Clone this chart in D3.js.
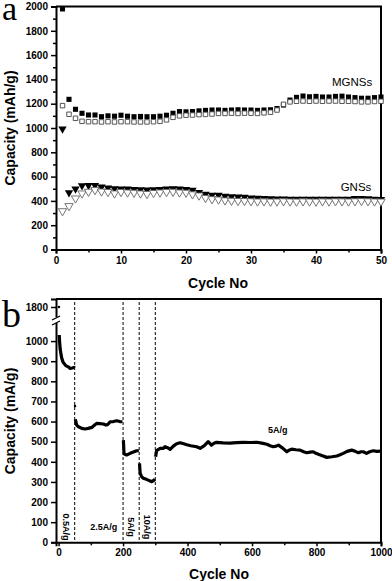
<!DOCTYPE html>
<html>
<head>
<meta charset="utf-8">
<script src="https://cdn.jsdelivr.net/npm/d3@7"></script>
<style>
  body { margin: 0; background: #fff; }
  svg { display: block; font-family: "Liberation Sans", Arial, sans-serif; }
  .tick text { font-weight: bold; font-size: 10px; }
</style>
</head>
<body>
<div class="chart"></div>
<script>
// panel a data, cycles 1..50
var cyclesA = d3.range(1, 51);
var mgnsCharge = [1980, 1236, 1154, 1121, 1107, 1107, 1093, 1100, 1097, 1105,
  1097, 1093, 1095, 1093, 1093, 1097, 1105, 1121, 1135, 1133,
  1135, 1141, 1145, 1148, 1148, 1145, 1148, 1150, 1148, 1148,
  1145, 1148, 1150, 1160, 1189, 1230, 1252, 1263, 1257, 1260,
  1255, 1255, 1260, 1262, 1255, 1250, 1245, 1245, 1250, 1255];
var mgnsDischarge = [1184, 1113, 1080, 1055, 1052, 1052, 1050, 1052, 1050, 1052,
  1052, 1050, 1050, 1050, 1052, 1055, 1067, 1088, 1100, 1105,
  1107, 1110, 1112, 1115, 1120, 1120, 1122, 1120, 1122, 1122,
  1120, 1125, 1130, 1148, 1195, 1215, 1220, 1222, 1220, 1222,
  1220, 1222, 1222, 1220, 1220, 1218, 1215, 1215, 1218, 1220];
var gnsCharge = [992, 468, 498, 525, 528, 528, 515, 508, 500, 498,
  498, 495, 493, 490, 492, 495, 498, 500, 498, 495,
  488, 470, 455, 448, 448, 440, 435, 432, 430, 425,
  422, 420, 418, 416, 416, 415, 415, 415, 415, 415,
  415, 415, 415, 415, 415, 420, 420, 418, 415, 412];
var gnsDischarge = [316, 358, 421, 462, 476, 490, 478, 474, 462, 474,
  470, 468, 462, 458, 466, 470, 474, 476, 470, 468,
  455, 445, 425, 415, 412, 405, 402, 400, 400, 398,
  396, 397, 395, 396, 398, 396, 395, 397, 396, 395,
  397, 396, 398, 397, 396, 398, 400, 398, 396, 395];

// panel b data: [cycle, capacity]
var rateDots = [[1, 1800], [51, 677]];
var rate05 = [[2, 1030], [3, 1000], [5, 960], [8, 930], [10, 914], [14, 895], [17, 889],
  [22, 878], [30, 872], [36, 864], [42, 866], [48, 869], [50, 866]];
var rate25 = [[52, 611], [56, 583], [62, 574], [72, 566], [82, 563], [92, 566], [103, 571],
  [110, 580], [118, 591], [128, 590], [139, 588], [145, 584], [151, 584], [155, 590],
  [160, 599], [170, 600], [180, 604], [190, 600], [198, 599]];
var rate5a = [[201, 508], [203, 440], [211, 434], [222, 442], [230, 447], [242, 455], [249, 455]];
var rate10 = [[251, 392], [253, 343], [258, 325], [263, 318], [270, 314], [278, 309],
  [284, 305], [289, 301], [294, 306], [299, 313]];
var rate5b = [[301, 425], [304, 456], [310, 462], [315, 467], [325, 467], [330, 475], [338, 470],
  [346, 462], [356, 478], [366, 490], [377, 495], [388, 490], [398, 485], [410, 480],
  [428, 475], [439, 467], [452, 480], [464, 500], [474, 483], [482, 492], [490, 497],
  [510, 494], [532, 493], [552, 495], [573, 497], [595, 496], [615, 497], [630, 493],
  [646, 487], [656, 480], [666, 475], [675, 478], [682, 483], [695, 468], [708, 450],
  [715, 458], [723, 463], [736, 460], [749, 458], [760, 450], [770, 445], [780, 448],
  [790, 450], [798, 442], [806, 437], [818, 430], [832, 422], [848, 425], [863, 429],
  [873, 435], [883, 442], [895, 452], [909, 458], [920, 452], [930, 445], [938, 450],
  [945, 450], [955, 442], [965, 450], [976, 455], [987, 452], [1000, 453]];
var rateBounds = [50, 200, 250, 300];
var rateLabelsV = [[25, "0.5A/g"], [225, "5A/g"], [275, "10A/g"]];
var rateLabelsH = [[140, "2.5A/g", 527], [680, "5A/g", 430]];
var yTicksB = [0, 100, 200, 300, 400, 500, 600, 700, 800, 900, 1000, 1800];

var FONT = "'Liberation Sans', Arial, sans-serif";

var svg = d3.select(".chart").append("svg")
  .attr("width", 392)
  .attr("height", 581);

function frame(g, x0, x1, y0, y1) {
  g.append("path")
    .attr("d", "M" + x0 + "," + y0 + "H" + x1 + "V" + y1)
    .attr("fill", "none").attr("stroke", "#000").attr("stroke-width", 2);
}

function styleAxis(g) {
  g.attr("font-family", FONT);
  g.select(".domain").attr("stroke-width", 2);
  g.selectAll(".tick line").attr("stroke-width", 1.5);
  g.selectAll(".tick text").attr("fill", "#000");
}

// ---------- panel a ----------
var xa = d3.scaleLinear().domain([0, 50]).range([56, 381]);
var ya = d3.scaleLinear().domain([0, 2000]).range([249.5, 6.5]);
var ga = svg.append("g");

frame(ga, 56, 381, 6.5, 249.5);

ga.append("g").attr("transform", "translate(0,249.5)")
  .call(d3.axisBottom(xa).tickValues(d3.range(0, 51, 5)).tickSizeOuter(0)
    .tickSize(4).tickFormat(function(d) { return d % 10 === 0 ? d : ""; }))
  .call(styleAxis)
  .selectAll(".tick").filter(function(d) { return d % 10 !== 0; })
  .select("line").attr("y2", 3);

ga.append("g").attr("transform", "translate(56,0)")
  .call(d3.axisLeft(ya).tickValues(d3.range(0, 2001, 100)).tickSizeOuter(0)
    .tickSize(5).tickFormat(function(d) { return d % 200 === 0 ? d : ""; }))
  .call(styleAxis)
  .selectAll(".tick").filter(function(d) { return d % 200 !== 0; })
  .select("line").attr("x2", -3);

var sq = d3.symbol().type(d3.symbolSquare).size(26);
var tri = d3.symbol().type(d3.symbolTriangle).size(30);

ga.selectAll(".mgc").data(cyclesA).enter().append("path")
  .attr("d", sq).attr("fill", "#000")
  .attr("transform", function(d, i) { return "translate(" + xa(d) + "," + ya(mgnsCharge[i]) + ")"; });
ga.selectAll(".mgd").data(cyclesA).enter().append("path")
  .attr("d", d3.symbol().type(d3.symbolSquare).size(20)).attr("fill", "#fff")
  .attr("stroke", "#444").attr("stroke-width", 0.9)
  .attr("transform", function(d, i) { return "translate(" + xa(d) + "," + ya(mgnsDischarge[i]) + ")"; });
ga.selectAll(".gc").data(cyclesA).enter().append("path")
  .attr("d", tri).attr("fill", "#000")
  .attr("transform", function(d, i) { return "translate(" + xa(d) + "," + ya(gnsCharge[i]) + ") rotate(180)"; });
ga.selectAll(".gd").data(cyclesA).enter().append("path")
  .attr("d", tri).attr("fill", "#fff")
  .attr("stroke", "#666").attr("stroke-width", 0.9)
  .attr("transform", function(d, i) { return "translate(" + xa(d) + "," + ya(gnsDischarge[i]) + ") rotate(180)"; });

ga.append("text").attr("x", 352).attr("y", 86).attr("text-anchor", "middle")
  .attr("font-size", 11.5).text("MGNSs");
ga.append("text").attr("x", 356).attr("y", 191).attr("text-anchor", "middle")
  .attr("font-size", 11.5).text("GNSs");

ga.append("text").attr("x", 218).attr("y", 288).attr("text-anchor", "middle")
  .attr("font-size", 14).attr("font-weight", "bold").text("Cycle No");
ga.append("text").attr("transform", "translate(15,128) rotate(-90)")
  .attr("text-anchor", "middle").attr("font-size", 14).attr("font-weight", "bold")
  .text("Capacity (mAh/g)");
ga.append("text").attr("x", 2).attr("y", 20)
  .attr("font-family", "'Liberation Serif', 'Times New Roman', serif").attr("font-size", 34)
  .text("a");

// ---------- panel b ----------
var xb = d3.scaleLinear().domain([-8, 1000]).range([56, 381]);
var yb = d3.scaleLinear().domain([0, 1060, 1760, 1840]).range([542.3, 329, 315, 299]);
var gb = svg.append("g");

frame(gb, 56, 381, 299, 542.3);

gb.append("g").attr("transform", "translate(0,542.3)")
  .call(d3.axisBottom(xb).tickValues(d3.range(0, 1001, 100)).tickSizeOuter(0)
    .tickSize(4).tickFormat(function(d) { return d % 200 === 0 ? d : ""; }))
  .call(styleAxis)
  .selectAll(".tick").filter(function(d) { return d % 200 !== 0; })
  .select("line").attr("y2", 3);

gb.append("g").attr("transform", "translate(56,0)")
  .call(d3.axisLeft(yb).tickValues(yTicksB).tickSizeOuter(0).tickSize(5).tickFormat(d3.format("d")))
  .call(styleAxis);

// axis break
gb.append("rect").attr("x", 50).attr("y", 317).attr("width", 12).attr("height", 6).attr("fill", "#fff");
[318, 323].forEach(function(y) {
  gb.append("line").attr("x1", 52).attr("x2", 60).attr("y1", y + 2).attr("y2", y - 2)
    .attr("stroke", "#000").attr("stroke-width", 1.3);
});

gb.selectAll(".bound").data(rateBounds).enter().append("line")
  .attr("x1", function(d) { return xb(d); }).attr("x2", function(d) { return xb(d); })
  .attr("y1", 302).attr("y2", 541)
  .attr("stroke", "#000").attr("stroke-width", 1).attr("stroke-dasharray", "3,2");

var line = d3.line().x(function(d) { return xb(d[0]); }).y(function(d) { return yb(d[1]); });
[rate05, rate25, rate5a, rate10, rate5b].forEach(function(seg) {
  gb.append("path").datum(seg).attr("d", line)
    .attr("fill", "none").attr("stroke", "#000").attr("stroke-width", 3.2)
    .attr("stroke-linejoin", "round");
});
gb.selectAll(".dot").data(rateDots).enter().append("circle")
  .attr("cx", function(d) { return xb(d[0]); }).attr("cy", function(d) { return yb(d[1]); })
  .attr("r", 1.3).attr("fill", "#000");

gb.selectAll(".lv").data(rateLabelsV).enter().append("text")
  .attr("transform", function(d) { return "translate(" + (xb(d[0]) - 3.5) + ",527) rotate(90)"; })
  .attr("text-anchor", "middle").attr("font-size", 9).attr("font-weight", "bold")
  .text(function(d) { return d[1]; });
gb.selectAll(".lh").data(rateLabelsH).enter().append("text")
  .attr("x", function(d) { return xb(d[0]); }).attr("y", function(d) { return d[2] + 3; })
  .attr("text-anchor", "middle").attr("font-size", 9).attr("font-weight", "bold")
  .text(function(d) { return d[1]; });

gb.append("text").attr("x", 219).attr("y", 579).attr("text-anchor", "middle")
  .attr("font-size", 14).attr("font-weight", "bold").text("Cycle No");
gb.append("text").attr("transform", "translate(15,421) rotate(-90)")
  .attr("text-anchor", "middle").attr("font-size", 14).attr("font-weight", "bold")
  .text("Capacity (mA/g)");
gb.append("text").attr("x", 2).attr("y", 327)
  .attr("font-family", "'Liberation Serif', 'Times New Roman', serif").attr("font-size", 38)
  .text("b");
</script>
</body>
</html>
